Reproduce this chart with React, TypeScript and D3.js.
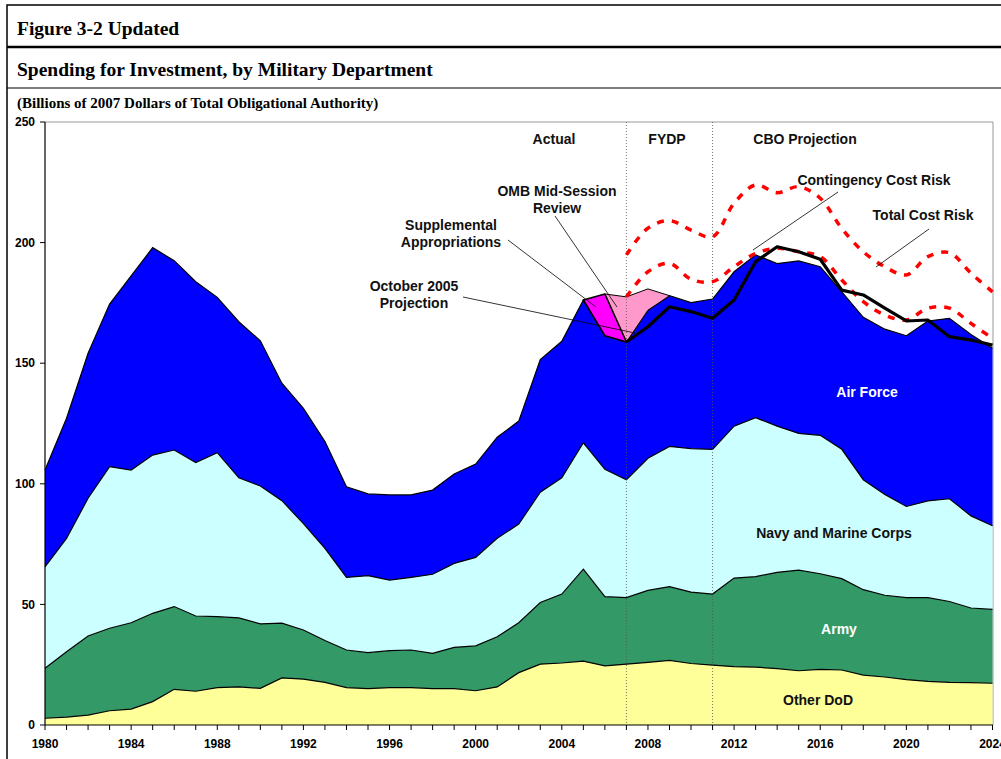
import React from "react";
import * as d3 from "d3";

// fiscal years on the x axis
const years = d3.range(1980, 2025);

// billions of 2007 dollars (stacked bottom to top)
const otherDoD = [
  2.8, 3.3, 4.1, 5.9, 6.6, 9.7, 14.8, 14.0, 15.5, 15.8,
  15.2, 19.5, 19.0, 17.7, 15.5, 15.1, 15.5, 15.5, 15.1, 15.1,
  14.2, 15.8, 21.7, 25.2, 25.7, 26.5, 24.5, 25.2, 26.0, 26.8,
  25.5, 24.8, 24.2, 24.0, 23.4, 22.5, 23.1, 22.8, 20.7, 19.9,
  18.8, 18.1, 17.7, 17.6, 17.3,
];
const army = [
  20.7, 27.1, 32.8, 34.2, 35.8, 36.6, 34.3, 31.2, 29.4, 28.6,
  26.7, 22.7, 20.4, 17.3, 15.6, 14.9, 15.3, 15.6, 14.6, 17.1,
  18.6, 20.8, 20.7, 25.6, 28.6, 38.1, 28.7, 27.6, 29.8, 30.6,
  29.6, 29.5, 36.7, 37.5, 39.9, 41.7, 39.6, 37.9, 35.4, 33.9,
  34.0, 34.7, 33.5, 30.9, 30.6,
];
const navyMarines = [
  42.1, 47.0, 57.1, 67.0, 63.3, 65.6, 64.9, 63.6, 68.0, 58.1,
  57.2, 50.8, 44.1, 38.2, 30.1, 31.9, 29.3, 30.1, 32.8, 34.8,
  36.7, 40.8, 40.9, 45.7, 48.2, 52.4, 52.8, 48.9, 54.8, 58.1,
  59.5, 60.0, 63.0, 65.9, 60.6, 56.7, 57.4, 53.6, 45.6, 41.8,
  37.8, 40.1, 42.6, 38.2, 34.7,
];
const airForce = [
  40.1, 49.8, 60.1, 67.4, 80.5, 86.0, 78.5, 75.0, 64.4, 64.7,
  60.2, 48.7, 47.8, 44.3, 37.6, 33.9, 35.3, 34.2, 34.9, 37.1,
  38.7, 41.9, 42.7, 55.0, 56.6, 59.2, 55.4, 57.1, 61.4, 62.5,
  60.5, 62.3, 64.0, 67.5, 67.4, 71.5, 69.9, 65.3, 67.3, 68.5,
  70.8, 74.6, 74.8, 75.2, 73.6,
];

// extra bands stacked on top of the Air Force
const supplementalYears = [2005, 2006, 2007];
const supplemental = [0, 17.3, 0];
const ombYears = [2006, 2007, 2008, 2009];
const ombReview = [0, 18.7, 8.8, 0];

// projection lines
const projYears = d3.range(2007, 2025);
const oct2005Projection = [
  158.8, 165.1, 173.4, 171.4, 168.6, 176.2, 192.1, 198.3, 196.2,
  193.1, 180.3, 178.3, 172.8, 167.5, 167.9, 161.0, 159.6, 157.5,
];
const contingencyCostRisk = [
  177.5, 187.9, 191.4, 184.8, 183.8, 190.0, 195.5, 197.6, 196.2,
  194.2, 184.5, 175.5, 170.0, 167.9, 172.8, 172.8, 166.5, 160.3,
];
const totalCostRisk = [
  194.9, 206.0, 209.1, 205.2, 202.4, 216.3, 223.9, 220.7, 223.2,
  218.4, 205.9, 196.2, 190.0, 186.6, 194.2, 195.8, 187.3, 179.6,
];

const yTicks = [0, 50, 100, 150, 200, 250];
const xTickLabels = [1980, 1984, 1988, 1992, 1996, 2000, 2004, 2008, 2012, 2016, 2020, 2024];
const periodBreaks = [2007, 2011];
const seriesKeys = ["other", "army", "navy", "airForce"];
const seriesColors = ["#FFFF99", "#339966", "#CCFFFF", "#0000FF"];

const sans = "Arial, 'Liberation Sans', sans-serif";
const serif = "'Times New Roman', 'Liberation Serif', serif";

export default function App() {
  const W = 1001, H = 759;
  const left = 45, right = 992.5, top = 122, bottom = 725;
  const x = d3.scaleLinear().domain([1980, 2024]).range([left, right]);
  const y = d3.scaleLinear().domain([0, 250]).range([bottom, top]);

  const rows = years.map((yr, i) => ({
    year: yr, other: otherDoD[i], army: army[i], navy: navyMarines[i], airForce: airForce[i],
  }));
  const stacked = d3.stack<any>().keys(seriesKeys)(rows);
  const area = d3.area<any>().x(d => x(d.data.year)).y0(d => y(d[0])).y1(d => y(d[1]));
  const topLine = d3.line<any>().x(d => x(d.data.year)).y(d => y(d[1]));

  const afTop = (yr: number) => stacked[3][years.indexOf(yr)][1];
  const suppAt = (yr: number) => {
    const i = supplementalYears.indexOf(yr);
    return i < 0 ? 0 : supplemental[i];
  };
  const suppPts = supplementalYears.map((yr, i) => ({ year: yr, y0: afTop(yr), y1: afTop(yr) + supplemental[i] }));
  const ombPts = ombYears.map((yr, i) => {
    const b = afTop(yr) + suppAt(yr);
    return { year: yr, y0: b, y1: b + ombReview[i] };
  });
  const band = d3.area<any>().x(d => x(d.year)).y0(d => y(d.y0)).y1(d => y(d.y1));

  const straight = d3.line<number>().x((_, i) => x(projYears[i])).y(d => y(d));
  const smooth = d3.line<number>().x((_, i) => x(projYears[i])).y(d => y(d)).curve(d3.curveCatmullRom);

  const ann = { fontFamily: sans, fontWeight: "bold", fontSize: 14, fill: "#111" } as any;

  return (
    <svg width={W} height={H} style={{ position: "absolute", left: 0, top: 0, background: "#fff" }}>
      {/* frame and titles */}
      <rect x={7} y={5} width={1100} height={800} fill="none" stroke="#000" strokeWidth={1.5} />
      <line x1={7} x2={W} y1={47} y2={47} stroke="#000" strokeWidth={2.5} />
      <line x1={7} x2={W} y1={88} y2={88} stroke="#000" strokeWidth={1.2} />
      <text x={17} y={35} fontFamily={serif} fontWeight="bold" fontSize={19.5}>Figure 3-2 Updated</text>
      <text x={17} y={76} fontFamily={serif} fontWeight="bold" fontSize={19.5}>Spending for Investment, by Military Department</text>
      <text x={17} y={108} fontFamily={serif} fontWeight="bold" fontSize={15}>(Billions of 2007 Dollars of Total Obligational Authority)</text>

      {/* plot border */}
      <line x1={left} x2={right + 0.5} y1={top} y2={top} stroke="#999" />
      <line x1={right + 0.5} x2={right + 0.5} y1={top} y2={bottom} stroke="#999" />

      {/* stacked areas */}
      {stacked.map((s, i) => (
        <path key={seriesKeys[i]} d={area(s) || ""} fill={seriesColors[i]} />
      ))}
      {stacked.map((s, i) => (
        <path key={"l" + seriesKeys[i]} d={topLine(s) || ""} fill="none" stroke="#000" strokeWidth={1.2} />
      ))}
      <path d={band(ombPts) || ""} fill="#FF99CC" stroke="#000" strokeWidth={1} />
      <path d={band(suppPts) || ""} fill="#FF00FF" stroke="#000" strokeWidth={1.6} strokeLinejoin="round" />

      {/* period dividers */}
      {periodBreaks.map(yr => (
        <line key={yr} x1={x(yr)} x2={x(yr)} y1={top} y2={bottom} stroke="#555" strokeWidth={0.8} strokeDasharray="1,2" />
      ))}

      {/* projection and risk lines */}
      <path d={smooth(totalCostRisk) || ""} fill="none" stroke="#FF0000" strokeWidth={3.5} strokeDasharray="7,8" />
      <path d={smooth(contingencyCostRisk) || ""} fill="none" stroke="#FF0000" strokeWidth={3.5} strokeDasharray="7,8" />
      <path d={straight(oct2005Projection) || ""} fill="none" stroke="#000" strokeWidth={3.2} strokeLinejoin="round" />

      {/* axes */}
      <line x1={left} x2={left} y1={top} y2={bottom} stroke="#000" strokeWidth={1.2} />
      <line x1={left} x2={right + 0.5} y1={bottom} y2={bottom} stroke="#000" strokeWidth={1.2} />
      {yTicks.map(t => (
        <g key={t}>
          <line x1={left - 5} x2={left} y1={y(t)} y2={y(t)} stroke="#000" />
          <text x={35} y={y(t)} dy="0.35em" textAnchor="end" fontFamily={sans} fontWeight="bold" fontSize={12}>{t}</text>
        </g>
      ))}
      {years.map(yr => (
        <line key={yr} x1={x(yr)} x2={x(yr)} y1={bottom} y2={bottom + 5} stroke="#000" />
      ))}
      {xTickLabels.map(yr => (
        <text key={yr} x={x(yr)} y={748} textAnchor="middle" fontFamily={sans} fontWeight="bold" fontSize={12}>{yr}</text>
      ))}

      {/* period labels */}
      <text {...ann} x={554} y={144} textAnchor="middle">Actual</text>
      <text {...ann} x={667} y={144} textAnchor="middle">FYDP</text>
      <text {...ann} x={805} y={144} textAnchor="middle">CBO Projection</text>

      {/* annotations with leader lines */}
      <g stroke="#000" strokeWidth={0.8}>
        <line x1={555} y1={216} x2={617} y2={307} />
        <line x1={508} y1={240} x2={596} y2={307} />
        <line x1={463} y1={297} x2={635} y2={333} />
        <line x1={838} y1={192} x2={753} y2={250} />
        <line x1={929} y1={229} x2={876} y2={267} />
      </g>
      <text {...ann} x={557} y={196} textAnchor="middle">OMB Mid-Session</text>
      <text {...ann} x={557} y={213} textAnchor="middle">Review</text>
      <text {...ann} x={451} y={230} textAnchor="middle">Supplemental</text>
      <text {...ann} x={451} y={247} textAnchor="middle">Appropriations</text>
      <text {...ann} x={414} y={291} textAnchor="middle">October 2005</text>
      <text {...ann} x={414} y={308} textAnchor="middle">Projection</text>
      <text {...ann} x={874} y={185} textAnchor="middle">Contingency Cost Risk</text>
      <text {...ann} x={923} y={220} textAnchor="middle">Total Cost Risk</text>

      {/* series labels */}
      <text {...ann} x={867} y={397} textAnchor="middle" fill="#fff">Air Force</text>
      <text {...ann} x={834} y={538} textAnchor="middle">Navy and Marine Corps</text>
      <text {...ann} x={839} y={634} textAnchor="middle" fill="#fff">Army</text>
      <text {...ann} x={818} y={705} textAnchor="middle">Other DoD</text>
    </svg>
  );
}
